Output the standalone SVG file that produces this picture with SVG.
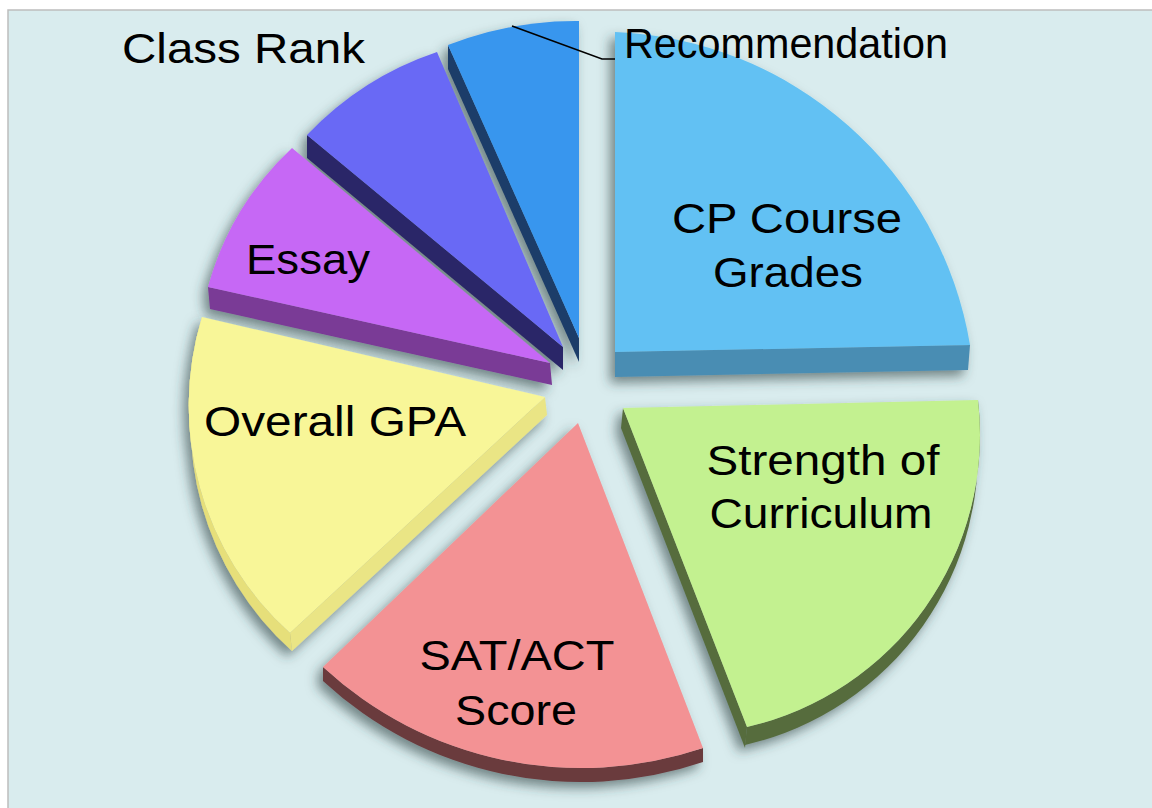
<svg xmlns="http://www.w3.org/2000/svg" width="1152" height="808" viewBox="0 0 1152 808">
<defs>
<filter id="sh" x="-20%" y="-20%" width="140%" height="140%">
<feDropShadow dx="-5" dy="6" stdDeviation="6" flood-color="#2f3f40" flood-opacity="0.6"/>
</filter>
</defs>
<style>
.lbl{font-family:"Liberation Sans",Arial,sans-serif;font-size:43px;fill:#000}
.mid{text-anchor:middle}
</style>
<rect x="0" y="0" width="1152" height="808" fill="#ffffff"/>
<rect x="8" y="10" width="1150" height="805" fill="#D9ECEE" stroke="#BDBDBD" stroke-width="1.5"/>

<g id="recommendation" filter="url(#sh)">
<polygon points="448,45 579,338 579,362 448,69" fill="#1B3D69"/>
<path d="M579,338 L448,45 A350,350 0 0 1 579,21 Z" fill="#3896EE"/>
</g>
<g id="class-rank" filter="url(#sh)">
<polygon points="307,135 563,347 563,370 307,158" fill="#2A2868"/>
<path d="M563,347 L307,135 A320,320 0 0 1 437,52 Z" fill="#6969F5"/>
</g>
<g id="essay" filter="url(#sh)">
<polygon points="208,287 550,363 552,385 210,309" fill="#7A3A96"/>
<path d="M550,363 L292,148 A300,300 0 0 0 208,287 Z" fill="#C667F5"/>
</g>
<g id="overall-gpa" filter="url(#sh)">
<polygon points="545,397 290,633 292,651 547,415" fill="#EAE585"/>
<path d="M202,317 A305,305 0 0 0 290,633 L292,651 A305,305 0 0 1 204,335 Z" fill="#E6DF7A"/>
<path d="M545,397 L202,317 A305,305 0 0 0 290,633 Z" fill="#F8F698"/>
</g>
<g id="sat-act" filter="url(#sh)">
<path d="M323,667 A380,380 0 0 0 703,748 L703,762 A380,380 0 0 1 323,681 Z" fill="#6A3A3D"/>
<path d="M578,423 L323,667 A380,380 0 0 0 703,748 Z" fill="#F39294"/>
</g>
<g id="strength" filter="url(#sh)">
<polygon points="623,408 747,727 745,748 621,428" fill="#566C3E"/>
<path d="M978,400 A300,300 0 0 1 747,727 L745,745 A300,300 0 0 0 976,418 Z" fill="#566C3E"/>
<path d="M623,408 L978,400 A300,300 0 0 1 747,727 Z" fill="#C3F190"/>
</g>
<g id="cp-course" filter="url(#sh)">
<polygon points="615,352 970,345 968,370 615,377" fill="#4A8DB3"/>
<path d="M615,352 L615,32 A375,375 0 0 1 970,345 Z" fill="#62C1F3"/>
</g>

<g id="connectors">
<polyline points="512,26 602,59 615,59" fill="none" stroke="#000" stroke-width="1.6"/>
</g>

<g id="labels">
<text class="lbl" x="122" y="63" textLength="243" lengthAdjust="spacingAndGlyphs">Class Rank</text>
<text class="lbl" x="624" y="58" textLength="324" lengthAdjust="spacingAndGlyphs">Recommendation</text>
<text class="lbl mid" x="787" y="233" textLength="230" lengthAdjust="spacingAndGlyphs">CP Course</text>
<text class="lbl mid" x="788" y="287" textLength="150" lengthAdjust="spacingAndGlyphs">Grades</text>
<text class="lbl mid" x="823" y="475" textLength="233" lengthAdjust="spacingAndGlyphs">Strength of</text>
<text class="lbl mid" x="821" y="528" textLength="223" lengthAdjust="spacingAndGlyphs">Curriculum</text>
<text class="lbl" x="246" y="274" textLength="124" lengthAdjust="spacingAndGlyphs">Essay</text>
<text class="lbl" x="204" y="436" textLength="262" lengthAdjust="spacingAndGlyphs">Overall GPA</text>
<text class="lbl mid" x="517" y="670" textLength="195" lengthAdjust="spacingAndGlyphs">SAT/ACT</text>
<text class="lbl mid" x="516" y="725" textLength="122" lengthAdjust="spacingAndGlyphs">Score</text>
</g>
</svg>
